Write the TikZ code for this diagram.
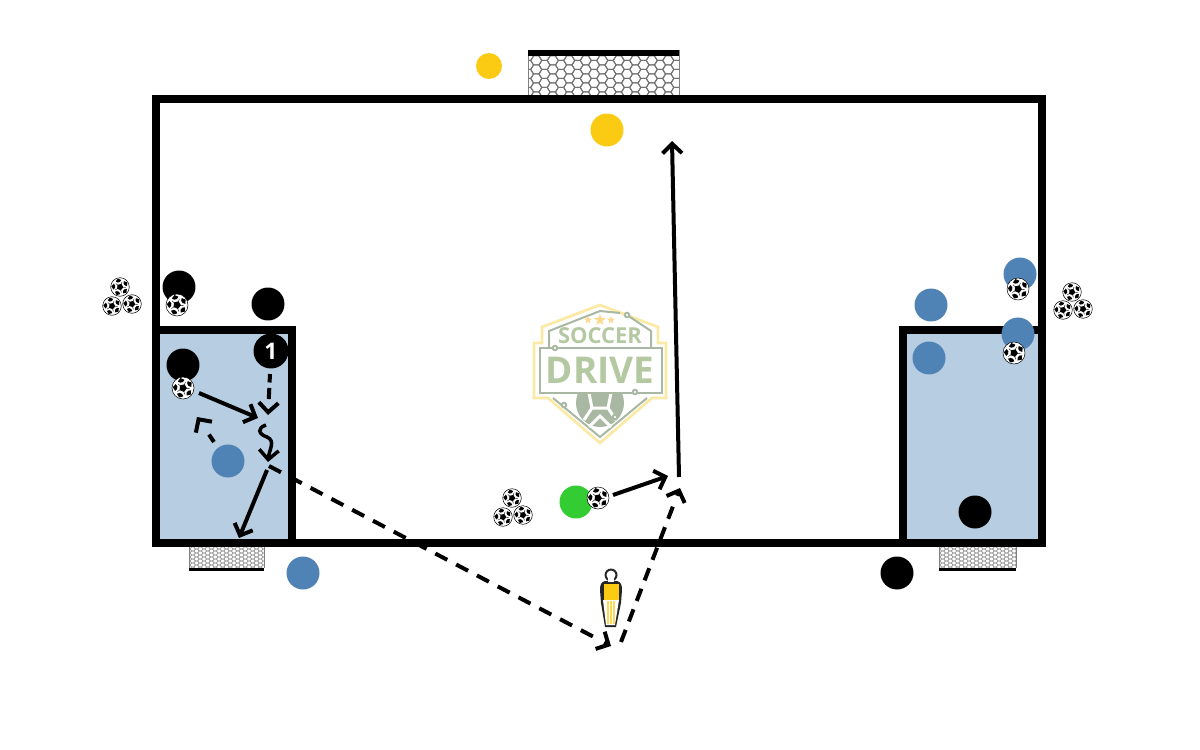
\documentclass[tikz,border=0pt]{standalone}
\usepackage{fontspec}
\setsansfont{Open Sans}
\usepackage{tikz}
\usetikzlibrary{arrows.meta, shapes.geometric, calc}
\definecolor{zoneblue}{HTML}{B7CDE1}
\definecolor{teamblue}{HTML}{5083B5}
\definecolor{teamyellow}{HTML}{FBCB14}
\definecolor{teamgreen}{HTML}{33CC33}
\definecolor{logoyellow}{HTML}{FBE9A6}
\definecolor{logogrey}{HTML}{A9B8A2}
\definecolor{logogreen}{HTML}{B4C8A2}

% hexagon mesh: x0, y0, columns, rows, side, half height, colour
\newcommand{\netmesh}[7]{%
  \foreach \c in {0,...,#3} {
    \foreach \r in {0,...,#4} {
      \pgfmathsetmacro{\hx}{#1+\c*1.5*#5}
      \pgfmathsetmacro{\hy}{#2+\r*2*#6+mod(\c,2)*#6}
      \draw[#7] (\hx-#5,\hy) -- (\hx-#5/2,\hy-#6) -- (\hx+#5/2,\hy-#6) -- (\hx+#5,\hy) -- (\hx+#5/2,\hy+#6) -- (\hx-#5/2,\hy+#6) -- cycle;
    }
  }
}

\begin{document}
\begin{tikzpicture}[
  x=0.02cm, y=-0.02cm,
  player/.style={circle, inner sep=0pt, minimum size=0.66cm},
  coach/.style={player, minimum size=0.52cm},
  pitchline/.style={line width=1.6mm, draw=black, miter limit=10},
  arrow/.style={-{Straight Barb[length=1.9mm, width=3.9mm]}, line width=0.8mm, draw=black},
  runline/.style={line width=0.8mm, draw=black},
  football/.pic={
    \fill[white] (0,0) circle (10);
    \draw[black, line width=0.1mm] (0,0) circle (10);
    \begin{scope}[rotate=14]
      \foreach \a in {54,126,198,270,342} {
        \draw[black, line width=0.08mm] (\a+36:3) -- (\a+36:6);
        \fill[black] (\a:9.3) -- (\a+24:7.6) -- (\a+13:5.4) -- (\a-13:5.4) -- (\a-24:7.6) -- cycle;
      }
      \fill[black] (90:3.6) -- (162:3.6) -- (234:3.6) -- (306:3.6) -- (18:3.6) -- cycle;
    \end{scope}
  }
]
  \useasboundingbox (0,0) rectangle (1200,750);
  \fill[white] (0,0) rectangle (1200,750);

  % logo
  \fill[white, draw=logoyellow, line width=0.55mm] (600,305) -- (658,327) -- (658,343) -- (666,343) -- (666,398) -- (652,398) -- (600,443) -- (548,398) -- (534,398) -- (534,343) -- (542,343) -- (542,327) -- cycle;
  \draw[logogrey, line width=0.4mm] (627,315) -- (651,331) -- (651,347) (620,313) -- (600,311) -- (549,331) -- (549,347);
  \draw[logogrey, line width=0.4mm] (553,398) -- (600,437) -- (647,398);
  \fill[logogrey] (600,403) circle (24);
  \draw[white, line width=0.6mm] (589,393) -- (592,408) -- (608,408) -- (611,393) (592,408) -- (584,420) (608,408) -- (616,420) (589,427) -- (600,416) -- (611,427);
  \fill[white, draw=logogrey, line width=0.4mm] (540,348) rectangle (662,393);
  \fill[white, draw=logogrey, line width=0.4mm] (627,315) circle (2.2) (555,348) circle (2.2) (635,392) circle (2.2) (564,405) circle (2.2) (615,417) circle (2.2);
  \node[font=\sffamily\bfseries\fontsize{12.5}{12.5}\selectfont, text=logogreen, inner sep=0pt] (logoa) at (600,336) {SOCCER};
  \node[font=\sffamily\bfseries\fontsize{21}{21}\selectfont, text=logogreen, inner sep=0pt] (logob) at (600,370) {DRIVE};
  \foreach \sx/\ss in {588/0.16,600/0.24,611/0.16} {
    \node[star, star points=5, star point ratio=2.4, fill=logoyellow!85!orange, inner sep=0pt, minimum size=\ss cm] (star\sx) at (\sx,320) {};
  }

  % goals
  \begin{scope}
    \clip (528,50) rectangle (679,95);
    \netmesh{528}{56}{20}{5}{5.5}{4.5}{black!55, line width=0.2mm}
  \end{scope}
  \draw[gray, line width=0.2mm] (528,50) -- (528,95) (679,50) -- (679,95);
  \fill[black] (528,50) rectangle (679,56);
  \begin{scope}
    \clip (189,547) rectangle (264,568);
    \netmesh{189}{547}{22}{5}{2.5}{2}{gray!75, line width=0.12mm}
  \end{scope}
  \draw[gray, line width=0.2mm] (189,547) -- (189,568) (264,547) -- (264,568);
  \fill[black] (189,568) rectangle (264,571);
  \begin{scope}
    \clip (939,547) rectangle (1016,568);
    \netmesh{939}{547}{22}{5}{2.5}{2}{gray!75, line width=0.12mm}
  \end{scope}
  \draw[gray, line width=0.2mm] (939,547) -- (939,568) (1016,547) -- (1016,568);
  \fill[black] (939,568) rectangle (1016,571);

  % pitch
  \fill[zoneblue] (156,330) rectangle (292,543);
  \fill[zoneblue] (903,330) rectangle (1042,543);
  \draw[pitchline] (156,99) rectangle (1042,543);
  \draw[pitchline] (156,330) -- (292,330) -- (292,543);
  \draw[pitchline] (903,543) -- (903,330) -- (1042,330);

  % players
  \node[coach, fill=teamyellow] (y1) at (489,66) {};
  \node[player, fill=teamyellow] (y2) at (607,130) {};
  \node[player, fill=black] (k1) at (179,287) {};
  \node[player, fill=black] (k2) at (268,304) {};
  \node[player, fill=black] (k3) at (183,365) {};
  \node[player, fill=black, minimum size=0.7cm, text=white, font=\sffamily\bfseries\fontsize{13}{13}\selectfont] (k4) at (271,351) {1};
  \node[player, fill=black] (k5) at (975,512) {};
  \node[player, fill=black] (k6) at (897,573) {};
  \node[player, fill=teamblue] (b1) at (228,461) {};
  \node[player, fill=teamblue] (b2) at (303,573) {};
  \node[player, fill=teamblue] (b3) at (931,305) {};
  \node[player, fill=teamblue] (b4) at (929,358) {};
  \node[player, fill=teamblue] (b5) at (1020,274) {};
  \node[player, fill=teamblue] (b6) at (1018,334) {};
  \node[player, fill=teamgreen] (g1) at (576,502) {};

  % balls
  \foreach \bx/\by in {177/305,183/388,598/498,1018/289,1014/353} {
    \pic[scale=1.1] at (\bx,\by) {football};
  }
  \foreach \bx/\by in {120/287,112/306,132/304,512/498,503/517,523/515,1072/292,1063/310,1083/309} {
    \pic[scale=0.93] at (\bx,\by) {football};
  }

  % server
  \fill[black!85] (605,581) -- (617,581) .. controls (621,582) and (622,585) .. (622,590) -- (621,603) -- (616,627) -- (605,627) -- (601,603) -- (600,590) .. controls (600,585) and (601,582) .. (605,581) -- cycle;
  \fill[black!85] (611,575) circle (6.5);
  \fill[white] (611,575) circle (4.5);
  \fill[white] (608,578) rectangle (614,582);
  \fill[white] (603,600) -- (619,600) -- (615,625) -- (606,625) -- cycle;
  \fill[teamyellow] (603.5,584) rectangle (618.5,600);
  \foreach \lx in {608,611,614} {
    \draw[teamyellow!70, line width=0.25mm] (\lx,601) -- (\lx,624);
  }

  % connectors
  \coordinate (c1s) at (199,393);
  \coordinate (c1e) at (258,418);
  \coordinate (c2s) at (270,374);
  \coordinate (c2e) at (268,415);
  \coordinate (c3s) at (266,425);
  \coordinate (c3m) at (267,437);
  \coordinate (c3e) at (268,462);
  \coordinate (c4s) at (214,442);
  \coordinate (c4e) at (197,417);
  \coordinate (c5s) at (267,470);
  \coordinate (c5e) at (239,538);
  \coordinate (c6s) at (269,466);
  \coordinate (c6e) at (611,646);
  \coordinate (c7s) at (621,642);
  \coordinate (c7e) at (680,488);
  \coordinate (c8s) at (613,495);
  \coordinate (c8e) at (668,476);
  \coordinate (c9s) at (679,477);
  \coordinate (c9e) at (672,141);

  \draw[arrow] (c1s) -- (c1e);
  \draw[runline, shorten >=3.2mm, dash pattern=on 1.7mm off 1.1mm on 2.4mm off 5mm] (c2s) -- (c2e);
  \draw[arrow] ($(c2s)!0.9!(c2e)$) -- (c2e);
  \draw[arrow, line width=0.7mm] (c3s) .. controls (257,428) and (258,434) .. (c3m) .. controls (276,441) and (269,450) .. (c3e);
  \draw[runline, dash pattern=on 1.8mm off 10mm] (c4s) -- (c4e);
  \draw[arrow] ($(c4s)!0.9!(c4e)$) -- (c4e);
  \draw[arrow] (c5s) -- (c5e);
  \draw[runline, shorten >=4mm, dash pattern=on 2.7mm off 2mm] (c6s) -- (c6e);
  \draw[arrow] ($(c6s)!0.98!(c6e)$) -- (c6e);
  \draw[runline, shorten >=4mm, dash pattern=on 2.6mm off 1.8mm] (c7s) -- (c7e);
  \draw[arrow] ($(c7s)!0.95!(c7e)$) -- (c7e);
  \draw[arrow] (c8s) -- (c8e);
  \draw[arrow] (c9s) -- (c9e);
\end{tikzpicture}
\end{document}
